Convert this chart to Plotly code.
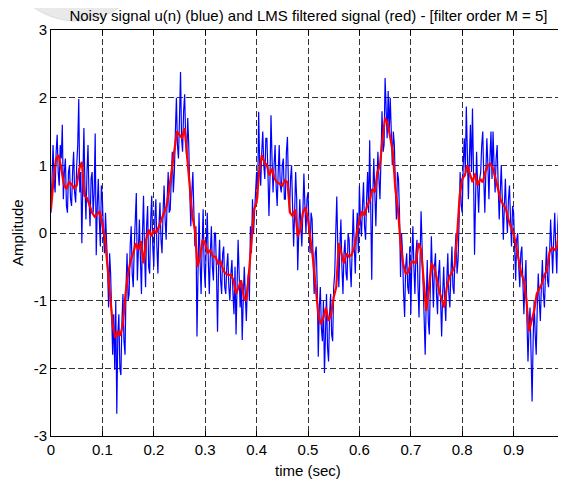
import numpy as np
import plotly.graph_objects as go

# Sampling grids (seconds)
blue_dt = 0.002
red_dt = 0.005

# Noisy signal u(n) (every 2 ms)
noisy_u = [
    0.3, 0.9, 1.3, 0.8, 0.6, 1.2, 1.45, 0.9, 0.7, 1.3,
    1.1, 1.6, 0.5, 0.9, 1.1, 0.4, 0.3, 0.9, 1.0, 0.5,
    0.4, 0.9, 1.2, 0.6, 0.45, 1.0, 1.3, 1.98, 0.6, 0.9,
    -0.15, 0.8, 1.55, 0.7, 0.2, 0.9, 1.3, 0.5, 0.1, 0.8,
    0.9, 0.3, 0.6, 1.47, -0.33, 0.4, 0.8, 0.2, -0.2, 0.7,
    0.5, 0.0, -0.3, 0.3, 0.0, -0.5, -1.1, -0.3, -0.6, -1.3,
    -1.8, -1.2, -2.02, -1.0, -2.67, -1.5, -1.2, -2.0, -2.1, -1.3,
    -0.9, -1.6, -1.8, -0.8, -0.3, -1.0, -0.9, -0.2, 0.1, -0.6,
    -0.8, -0.2, 0.1, 0.59, -0.7, -0.3, 0.2, -0.4, -0.9, 0.0,
    0.55, -0.3, -0.8, 0.1, 0.4, -0.5, -0.6, 0.2, 0.55, -0.2,
    -0.5, 0.2, 0.5, -0.2, -0.6, 0.1, 0.45, -0.1, -0.3, 0.3,
    0.7, 0.2, -0.1, 0.5, 0.9, 0.3, 0.35, 0.8, 1.2, 0.6,
    0.9, 1.5, 2.0, 1.3, 1.1, 1.7, 2.38, 1.4, 1.2, 1.8,
    2.05, 1.4, 1.1, 1.7, 1.3, 0.6, 0.1, 0.6, 0.9, 0.3,
    -0.2, 0.1, -1.53, -0.6, 0.3, -0.4, -0.9, -0.2, 0.35, -0.5,
    -0.8, -0.2, 0.3, -0.4, -0.9, -0.3, 0.1, -0.5, -0.7, 0.0,
    0.0, -0.6, -1.46, -0.5, -0.1, -0.7, -0.9, -0.3, -0.2, -0.8,
    -0.9, -0.5, -0.3, -0.8, -1.0, -0.6, -0.4, -0.9, -1.2, -0.5,
    -1.5, -0.8, -0.1, -0.6, -1.1, -0.7, -1.58, -1.0, -0.5, -0.9,
    -1.3, -0.8, -0.6, -1.0, 0.1, -0.3, 0.5, 0.0, 0.3, 0.6,
    0.9, 0.5, 1.79, 1.0, 0.7, 1.2, 1.5, 1.0, 0.8, 1.4,
    1.4, 0.9, 0.25, 0.8, 1.74, 1.1, 0.6, 1.0, 1.3, 0.7,
    0.4, 0.9, 1.3, 0.7, 0.6, 1.0, 1.1, 0.5, 0.5, 1.2,
    1.42, 0.7, 0.3, 0.8, 1.0, 0.4, -0.2, 0.3, 0.9, 0.5,
    -0.55, 0.0, 0.5, 0.1, -0.2, 0.3, 0.88, 0.4, 0.0, 0.5,
    0.6, 0.1, -0.3, 0.3, 0.2, -0.4, -0.9, -0.3, -0.2, -0.8,
    -1.83, -1.1, -0.8, -1.4, -1.6, -1.0, -2.07, -1.5, -0.9, -1.7,
    -1.9, -1.2, -0.9, -1.5, -1.6, -0.8, -0.6, 0.0, 0.54, -0.2,
    -0.8, -0.2, 0.2, -0.5, -0.9, -0.3, -0.1, -0.6, -0.7, 0.0,
    -0.1, -0.5, -0.8, -0.2, 0.35, -0.2, -0.6, 0.0, 0.3, -0.3,
    0.7, 0.2, -0.05, 0.4, 0.75, 0.1, -0.1, 0.5, 0.9, 0.3,
    1.37, 0.4, -0.69, 0.5, 1.1, 0.6, 0.1, 0.7, 1.2, 0.8,
    0.5, 1.1, 1.8, 1.2, 1.3, 2.29, 1.6, 1.4, 2.1, 1.5,
    2.0, 1.3, 1.0, 1.5, 1.3, 0.7, 0.2, 0.9, 0.8, 0.3,
    -0.65, 0.0, -0.3, -0.9, -1.24, -0.5, -0.3, -0.8, -0.9, -0.2,
    -1.2, -0.4, 0.1, -0.5, -0.9, -0.3, -0.1, -0.8, -1.25, -0.4,
    0.32, -0.2, -0.7, -1.2, -1.8, -1.0, -0.4, -1.3, -1.5, -0.8,
    -0.05, -0.6, -1.1, -0.5, -0.3, -0.9, -1.2, -0.6, -0.4, -1.0,
    -1.53, -0.9, -0.5, -1.0, -1.3, -0.7, -0.3, -0.9, -1.1, -0.6,
    -0.2, -0.8, -0.9, -0.3, 0.0, -0.6, -0.4, 0.2, 0.9, 0.4,
    0.3, 1.0, 1.4, 0.9, 1.87, 1.2, 0.5, 1.1, 1.6, 0.9,
    1.84, 0.9, -0.32, 0.5, 1.2, 0.7, 0.3, 0.8, 0.9, 1.3,
    1.5, 0.8, 0.3, 0.9, 1.4, 1.0, 0.5, 1.1, 1.5, 0.8,
    1.5, 1.0, 0.6, 1.1, 1.3, 0.7, 0.2, 0.6, 1.0, 0.5,
    -0.1, 0.4, 0.8, 0.3, 0.0, 0.5, 0.7, 0.2, -0.2, 0.4,
    0.3, -0.2, -0.7, -0.1, 0.0, -0.5, -0.8, -0.3, -0.2, -0.7,
    -1.2, -0.7, -0.4, -1.3, -1.9, -1.4, -1.1, -1.8, -2.49, -1.6,
    -1.0, -1.5, -1.8, -1.1, -0.6, -1.0, -1.3, -0.8, -0.4, -0.9,
    -1.1, -0.6, -0.2, -0.7, -0.8, -0.3, 0.2, -0.2, -0.6, -0.1,
    0.3, -0.2, -0.6, 0.1, 0.4, 0.0, -0.2, 0.3, 0.68, 0.1,
]

# LMS filtered signal (every 5 ms)
lms_filtered = [
    0.35, 0.80, 1.10, 1.15, 0.95, 0.72, 0.65, 0.75, 0.72, 0.66,
    0.70, 0.95, 1.05, 0.55, 0.52, 0.40, 0.30, 0.24, 0.28, 0.32,
    0.12, -0.08, -0.50, -0.95, -1.35, -1.55, -1.45, -1.52, -1.33, -0.90,
    -0.60, -0.40, -0.30, -0.15, -0.25, -0.12, -0.45, -0.10, 0.05, -0.05,
    0.05, 0.00, 0.10, 0.20, 0.28, 0.40, 0.65, 0.95, 1.20, 1.50,
    1.45, 1.40, 1.55, 1.10, 0.70, 0.25, 0.05, -0.50, -0.35, -0.10,
    -0.15, -0.30, -0.25, -0.35, -0.35, -0.45, -0.42, -0.55, -0.60, -0.62,
    -0.62, -0.70, -0.90, -0.80, -0.70, -0.95, -1.00, -0.60, -0.10, 0.35,
    0.45, 0.90, 1.15, 1.05, 1.00, 0.85, 0.95, 0.80, 0.75, 0.72,
    0.70, 0.78, 0.75, 0.30, 0.25, 0.35, -0.05, 0.05, 0.30, 0.38,
    0.20, -0.10, -0.40, -0.80, -1.20, -1.35, -1.25, -1.10, -1.30, -1.20,
    -0.95, -0.80, -0.15, -0.30, -0.45, -0.30, -0.35, -0.32, -0.22, 0.00,
    0.20, 0.32, 0.26, 0.40, 0.48, 0.65, 0.60, 0.90, 1.00, 1.40,
    1.70, 1.62, 1.42, 1.20, 0.65, 0.35, -0.15, -0.45, -0.60, -0.58,
    -0.45, -0.42, -0.45, -0.15, -0.25, -0.70, -1.15, -0.85, -0.45, -0.50,
    -0.65, -0.85, -0.97, -1.10, -0.80, -0.65, -0.58, -0.50, -0.05, 0.55,
    0.80, 0.85, 1.00, 0.88, 0.75, 0.88, 0.70, 0.80, 0.75, 0.90,
    1.00, 1.02, 0.95, 0.80, 0.62, 0.48, 0.42, 0.36, 0.20, 0.08,
    0.00, -0.22, -0.40, -0.60, -0.70, -1.00, -1.45, -1.30, -1.15, -0.90,
    -0.82, -0.75, -0.62, -0.55, -0.28, -0.22, -0.25, -0.20, 0.15, 0.18,
    0.10,
]

x_ticks = [0, 0.1, 0.2, 0.3, 0.4, 0.5, 0.6, 0.7, 0.8, 0.9, 1]
x_tick_labels = ["0", "0.1", "0.2", "0.3", "0.4", "0.5", "0.6", "0.7", "0.8", "0.9", "1"]
y_ticks = [-3, -2, -1, 0, 1, 2, 3]
y_tick_labels = ["-3", "-2", "-1", "0", "1", "2", "3"]

t_blue = np.round(np.arange(len(noisy_u)) * blue_dt, 4)
t_red = np.round(np.arange(len(lms_filtered)) * red_dt, 4)

FONT = "Liberation Sans, Arial, Helvetica, sans-serif"
FS = 15

# The page places the figure 8 px in from the top-left corner (body margin),
# so the figure is sized to fit the remaining window and offsets compensate.
OFF = 8
W, H = 566 - OFF, 481 - OFF
# reference-page pixel positions of the plot box
BOX_L, BOX_R, BOX_T, BOX_B = 51, 565, 30, 436
ML = BOX_L - OFF
MR = W - (BOX_R - OFF)
MT = BOX_T - OFF
MB = H - (BOX_B - OFF)
PW, PH = W - ML - MR, H - MT - MB


def px_to_paper_x(px):
    return (px - BOX_L) / PW


def py_to_paper_y(py):
    return (BOX_B - py) / PH


fig = go.Figure()
fig.add_trace(go.Scatter(x=t_blue, y=noisy_u, mode="lines",
                         line=dict(color="#0000FF", width=1.2), showlegend=False))
fig.add_trace(go.Scatter(x=t_red, y=lms_filtered, mode="lines",
                         line=dict(color="#FF0000", width=2.2), showlegend=False))

axis_common = dict(
    showline=True, linecolor="black", linewidth=1, mirror="ticks",
    ticks="inside", ticklen=5, tickcolor="black",
    showgrid=True, gridcolor="#333333", gridwidth=1, griddash="6px,3px",
    zeroline=False, tickfont=dict(family=FONT, size=FS, color="black"),
    automargin=False, ticklabeloverflow="allow",
)

fig.update_xaxes(range=[0, 1], tickvals=x_ticks, ticktext=x_tick_labels, **axis_common)
fig.update_yaxes(range=[-3, 3], tickvals=y_ticks, ticktext=y_tick_labels, **axis_common)

fig.add_annotation(text="time (sec)", xref="paper", yref="paper",
                   x=0.5, y=py_to_paper_y(470), xanchor="center", yanchor="middle",
                   showarrow=False, font=dict(family=FONT, size=FS, color="black"))
fig.add_annotation(text="Amplitude", xref="paper", yref="paper", textangle=-90,
                   x=px_to_paper_x(17), y=py_to_paper_y(233), xanchor="center", yanchor="middle",
                   showarrow=False, font=dict(family=FONT, size=FS, color="black"))

# faint grey watermark blob in the top-left corner
fig.add_shape(type="circle", xref="paper", yref="paper", layer="below",
              x0=px_to_paper_x(5), x1=px_to_paper_x(148),
              y0=py_to_paper_y(21), y1=py_to_paper_y(-115),
              fillcolor="#e9e9e9", line=dict(color="#dedede", width=1))

fig.update_layout(
    width=W, height=H,
    margin=dict(l=ML, r=MR, t=MT, b=MB),
    paper_bgcolor="white", plot_bgcolor="white",
    title=dict(text="Noisy signal u(n) (blue) and LMS filtered signal (red) - [filter order M = 5]",
               font=dict(family=FONT, size=FS, color="black"),
               x=(308.5 - OFF) / W, xanchor="center", y=1 - (16 - OFF) / H, yanchor="middle",
               xref="container", yref="container"),
)

fig.write_html("out.html")
